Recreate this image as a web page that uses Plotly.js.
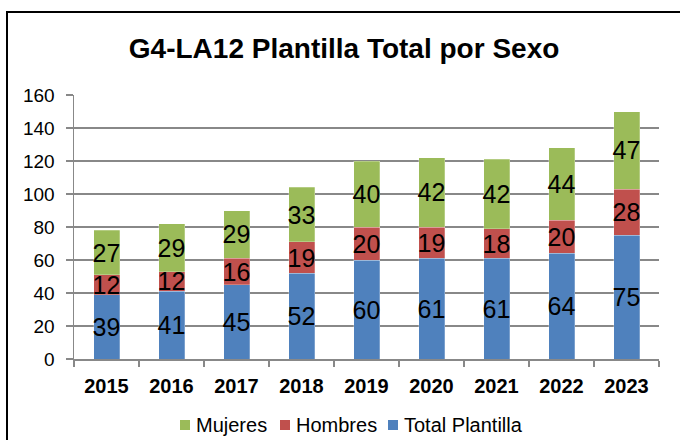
<!DOCTYPE html>
<html>
<head>
<meta charset="utf-8">
<script src="https://cdn.plot.ly/plotly-3.0.1.min.js"></script>
<style>html,body{margin:0;padding:0;background:#fff;}#chart{width:680px;height:440px;}</style>
</head>
<body>
<div id="chart"></div>
<script>
var years = ['2015','2016','2017','2018','2019','2020','2021','2022','2023'];
var totalPlantilla = [39, 41, 45, 52, 60, 61, 61, 64, 75];
var hombres = [12, 12, 16, 19, 20, 19, 18, 20, 28];
var mujeres = [27, 29, 29, 33, 40, 42, 42, 44, 47];
var seriesNames = ['Total Plantilla', 'Hombres', 'Mujeres'];
var seriesColors = ['#4F81BD', '#C0504D', '#9BBB59'];
var yTicks = [0, 20, 40, 60, 80, 100, 120, 140, 160];

var font = 'Liberation Sans, Arial, sans-serif';
function mk(name, vals, color) {
  return {
    type: 'bar', name: name, x: years, y: vals,
    marker: {color: color, line: {color: 'rgba(255,255,255,0.5)', width: 0.5}},
    text: vals.map(String), textposition: 'inside', insidetextanchor: 'middle',
    textangle: 0, constraintext: 'none', cliponaxis: false,
    textfont: {family: font, size: 25, color: '#000'},
    hoverinfo: 'none'
  };
}
var data = [
  mk(seriesNames[0], totalPlantilla, seriesColors[0]),
  mk(seriesNames[1], hombres, seriesColors[1]),
  mk(seriesNames[2], mujeres, seriesColors[2])
];

// manual legend (order: Mujeres, Hombres, Total Plantilla)
var plotL = 74, plotW = 585, plotB = 359, plotH = 264;
function px2x(px) { return (px - plotL) / plotW; }
function py2y(py) { return (plotB - py) / plotH; }
var legendItems = [
  {i: 2, sq: 180, tx: 194},
  {i: 1, sq: 280, tx: 294},
  {i: 0, sq: 388, tx: 402}
];
var legY = 425;
var shapes = [{type: 'rect', xref: 'paper', yref: 'paper', x0: px2x(7), x1: px2x(700), y0: py2y(460), y1: py2y(12),
               line: {color: '#000', width: 2}, fillcolor: 'rgba(0,0,0,0)', layer: 'above'}];
var annotations = [];
legendItems.forEach(function (it) {
  shapes.push({type: 'rect', xref: 'paper', yref: 'paper', x0: px2x(it.sq), x1: px2x(it.sq + 10),
               y0: py2y(legY + 5), y1: py2y(legY - 5), fillcolor: seriesColors[it.i], line: {width: 0}});
  annotations.push({xref: 'paper', yref: 'paper', x: px2x(it.tx), y: py2y(legY), xanchor: 'left', yanchor: 'middle',
                    text: seriesNames[it.i], showarrow: false, font: {family: font, size: 20, color: '#000'}});
});

var layout = {
  width: 680, height: 440,
  margin: {l: 74, r: 21, t: 95, b: 81},
  paper_bgcolor: '#fff', plot_bgcolor: '#fff',
  barmode: 'stack', bargap: 0.6,
  font: {family: font, color: '#000'},
  title: {text: 'G4-LA12 Plantilla Total por Sexo', font: {family: font, size: 28, weight: 'bold', color: '#000'},
          xref: 'container', x: 0.506, xanchor: 'center', yref: 'container', y: 0.89, yanchor: 'middle'},
  xaxis: {type: 'category', showline: true, linecolor: '#888', linewidth: 1.5,
          ticks: 'outside', tickson: 'boundaries', ticklen: 6, tickcolor: '#888', tickwidth: 1.5,
          ticklabelstandoff: 8,
          tickfont: {family: font, size: 20, weight: 'bold', color: '#000'}, showgrid: false},
  yaxis: {range: [0, 160], tickvals: yTicks, showline: true, linecolor: '#888', linewidth: 1.5,
          ticks: 'outside', ticklen: 7, tickcolor: '#888', tickwidth: 1.5,
          ticklabelstandoff: 7,
          gridcolor: '#888', gridwidth: 1.5, zeroline: false,
          tickfont: {family: font, size: 19, color: '#000'}},
  showlegend: false,
  shapes: shapes,
  annotations: annotations
};
Plotly.newPlot('chart', data, layout, {displayModeBar: false, staticPlot: true});
</script>
</body>
</html>
